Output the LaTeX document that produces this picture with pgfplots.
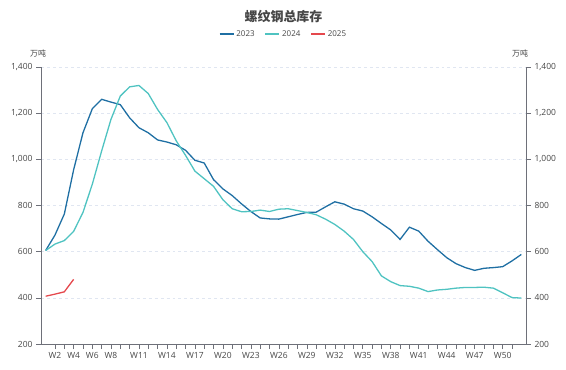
\documentclass[border=0pt]{standalone}
\usepackage{fontspec}
\setmainfont{Open Sans}
\newfontfamily\cjk{Noto Sans CJK SC}
\usepackage{pgfplots}
\pgfplotsset{compat=1.18}
\definecolor{c23}{HTML}{1F6FA3}
\definecolor{c24}{HTML}{4FC3C1}
\definecolor{c25}{HTML}{E5484D}
\definecolor{axc}{HTML}{6E7079}
\definecolor{gridc}{HTML}{E0E6F1}
\definecolor{txt}{HTML}{464646}
\pgfplotstableread{
w v
1 605
2 672
3 763
4 955
5 1115
6 1219
7 1260
8 1248
9 1237
10 1180
11 1137
12 1115
13 1084
14 1075
15 1063
16 1039
17 996
18 984
19 912
20 872
21 843
22 807
23 774
24 746
25 742
26 741
27 751
28 761
29 770
30 771
31 794
32 816
33 806
34 786
35 776
36 751
37 722
38 694
39 653
40 706
41 689
42 645
43 609
44 574
45 548
46 531
47 519
48 528
49 531
50 535
51 560
52 588
}\tA
\pgfplotstableread{
w v
1 605
2 633
3 648
4 688
5 770
6 892
7 1036
8 1173
9 1274
10 1314
11 1320
12 1285
13 1216
14 1159
15 1080
16 1017
17 949
18 916
19 883
20 825
21 786
22 773
23 774
24 780
25 774
26 784
27 786
28 778
29 770
30 760
31 741
32 718
33 689
34 653
35 600
36 557
37 495
38 470
39 453
40 450
41 442
42 427
43 434
44 437
45 442
46 445
47 445
48 446
49 442
50 422
51 401
52 399
}\tB
\pgfplotstableread{
w v
1 407
2 416
3 426
4 480
}\tC
\begin{document}
\begin{tikzpicture}
\useasboundingbox (-41bp,-26bp) rectangle (525bp,344bp);
\pgfplotsset{
  common/.style={
    width=485bp, height=277bp, scale only axis,
    xmin=0.5, xmax=52.5, ymin=200, ymax=1400,
    ytick={200,400,...,1400},
    axis line style={axc, line width=0.8pt},
    tick style={axc, line width=0.6pt},
    tick align=outside,
    major tick length=5bp, minor tick length=5bp,
    /pgf/number format/assume math mode=true,
    /pgf/number format/1000 sep={,},
    ticklabel style={font=\fontsize{8.5}{10}\selectfont, text=txt},
  }
}
\begin{axis}[common,
  axis x line*=bottom, axis y line*=left,
  xtick={2,4,6,8,11,14,17,20,23,26,29,32,35,38,41,44,47,50},
  xticklabels={W2,W4,W6,W8,W11,W14,W17,W20,W23,W26,W29,W32,W35,W38,W41,W44,W47,W50},
  minor xtick={2,...,51},
  ymajorgrids, grid style={gridc, dashed, line width=0.6pt},
  legend style={at={(0.5,1)}, anchor=center, yshift=33bp, draw=none, fill=none,
    legend columns=3, font=\fontsize{8}{9}\selectfont, text=txt,
    /tikz/every even column/.append style={column sep=8bp}},
  legend image code/.code={\draw[#1, line width=1.5pt] (0bp,0bp) -- (14bp,0bp);},
  clip=false,
]
\addplot[c23, line width=1.3pt] table[x=w,y=v]{\tA};
\addlegendentry{2023}
\addplot[c24, line width=1.3pt] table[x=w,y=v]{\tB};
\addlegendentry{2024}
\addplot[c25, line width=1.3pt] table[x=w,y=v]{\tC};
\addlegendentry{2025}
\node[font=\cjk\bfseries\fontsize{13}{15}\selectfont, text=txt] at (rel axis cs:0.5,1) [yshift=50bp] {螺纹钢总库存};
\node[font=\cjk\fontsize{8}{9}\selectfont, text=txt] at (rel axis cs:0,1) [xshift=-3bp, yshift=14bp] {万吨};
\node[font=\cjk\fontsize{8}{9}\selectfont, text=txt] at (rel axis cs:1,1) [xshift=-6bp, yshift=14bp] {万吨};
\end{axis}
\begin{axis}[common,
  axis x line=none, axis y line*=right,
  yticklabel pos=right,
]
\end{axis}
\end{tikzpicture}
\end{document}
